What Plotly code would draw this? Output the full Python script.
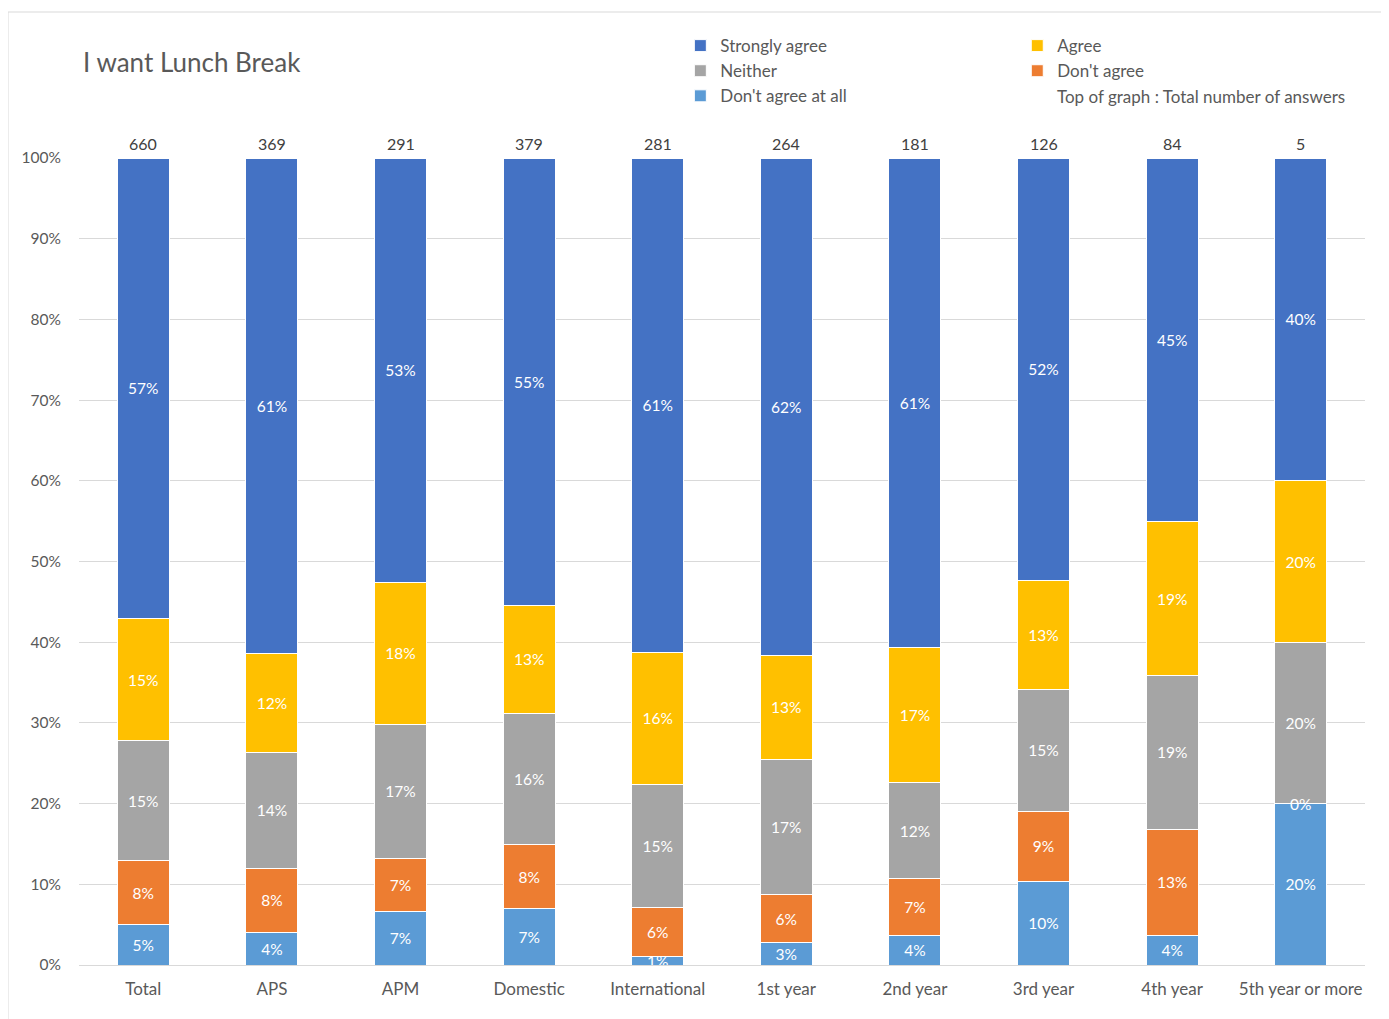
import plotly.graph_objects as go

categories = ["Total", "APS", "APM", "Domestic", "International",
              "1st year", "2nd year", "3rd year", "4th year", "5th year or more"]
totals = [660, 369, 291, 379, 281, 264, 181, 126, 84, 5]

# percentages, bottom to top
dont_agree_at_all = [4.96, 4.0, 6.6, 7.0, 1.1, 2.8, 3.7, 10.32, 3.7, 20.0]
dont_agree = [7.94, 8.0, 6.6, 7.9, 6.0, 5.9, 7.0, 8.73, 13.1, 0.0]
neither = [14.9, 14.3, 16.6, 16.3, 15.3, 16.8, 11.9, 15.08, 19.1, 20.0]
agree = [15.1, 12.3, 17.6, 13.4, 16.3, 12.9, 16.8, 13.49, 19.0, 20.0]
strongly_agree = [57.1, 61.4, 52.6, 55.4, 61.3, 61.6, 60.6, 52.38, 45.1, 40.0]

series = [
    ("Don't agree at all", dont_agree_at_all, "#5B9BD5", "legend"),
    ("Don't agree", dont_agree, "#ED7D31", "legend2"),
    ("Neither", neither, "#A5A5A5", "legend"),
    ("Agree", agree, "#FFC000", "legend2"),
    ("Strongly agree", strongly_agree, "#4472C4", "legend"),
]

FONT = "Lato, 'Open Sans', sans-serif"
GRAY = "#595959"
W, H = 1381, 1011

fig = go.Figure()
annotations = []
cum = [0.0] * len(categories)
for name, vals, color, leg in series:
    texts = []
    for i, v in enumerate(vals):
        if v == 0:
            texts.append("")
            annotations.append(dict(x=categories[i], y=cum[i], xref="x", yref="y",
                                    text=f"{round(v)}%", showarrow=False,
                                    font=dict(family=FONT, size=15.5, color="white")))
        else:
            texts.append(f"{round(v)}%")
    fig.add_trace(go.Bar(
        x=categories, y=vals, name=name, legend=leg,
        marker=dict(color=color, line=dict(color="white", width=1)),
        text=texts, texttemplate="%{text}", textposition="inside",
        insidetextanchor="middle", textangle=0,
        textfont=dict(family=FONT, size=15.5, color="white"),
        hoverinfo="skip",
    ))
    cum = [c + v for c, v in zip(cum, vals)]

for c, t in zip(categories, totals):
    annotations.append(dict(x=c, y=100, xref="x", yref="y", text=str(t),
                            showarrow=False, yanchor="bottom", yshift=3,
                            font=dict(family=FONT, size=16, color="#404040")))

annotations.append(dict(x=0.759, y=1.0756, xref="paper", yref="paper",
                        text="Top of graph : Total number of answers",
                        showarrow=False, xanchor="left", yanchor="middle",
                        font=dict(family=FONT, size=17, color=GRAY)))

bx0 = (8 - 79) / 1286
by1 = (965 - 12) / 807
fig.update_layout(
    width=W, height=H,
    margin=dict(l=71, r=24, t=150, b=54),
    barmode="stack", bargap=0.595,
    plot_bgcolor="white", paper_bgcolor="white",
    font=dict(family=FONT, color=GRAY),
    title=dict(text="I want Lunch Break", x=75 / W, xanchor="left",
               y=1 - 55 / H, yanchor="middle",
               font=dict(family=FONT, size=26, color=GRAY)),
    uniformtext=dict(mode="show", minsize=15.5),
    legend=dict(x=0.4676, y=1.161, xanchor="left", yanchor="top",
                orientation="v", traceorder="reversed",
                font=dict(family=FONT, size=17, color=GRAY),
                bgcolor="rgba(0,0,0,0)"),
    legend2=dict(x=0.7296, y=1.161, xanchor="left", yanchor="top",
                 orientation="v", traceorder="reversed",
                 font=dict(family=FONT, size=17, color=GRAY),
                 bgcolor="rgba(0,0,0,0)"),
    annotations=annotations,
    shapes=[
        dict(type="line", xref="paper", yref="paper",
             x0=bx0, x1=1.2, y0=by1, y1=by1,
             line=dict(color="#D9D9D9", width=1), layer="below"),
        dict(type="line", xref="paper", yref="paper",
             x0=bx0, x1=bx0, y0=-0.2, y1=by1,
             line=dict(color="#D9D9D9", width=1), layer="below"),
    ],
)

fig.update_yaxes(range=[0, 100], dtick=10, ticksuffix="%",
                 showgrid=True, gridcolor="#D9D9D9", gridwidth=1,
                 zeroline=True, zerolinecolor="#D9D9D9", zerolinewidth=1,
                 showline=False, ticks="", ticklabelstandoff=17,
                 tickfont=dict(family=FONT, size=15.5, color=GRAY))
fig.update_xaxes(showgrid=False, showline=False, ticks="",
                 ticklabelstandoff=12,
                 tickfont=dict(family=FONT, size=17, color=GRAY))

fig.write_html("out.html")
